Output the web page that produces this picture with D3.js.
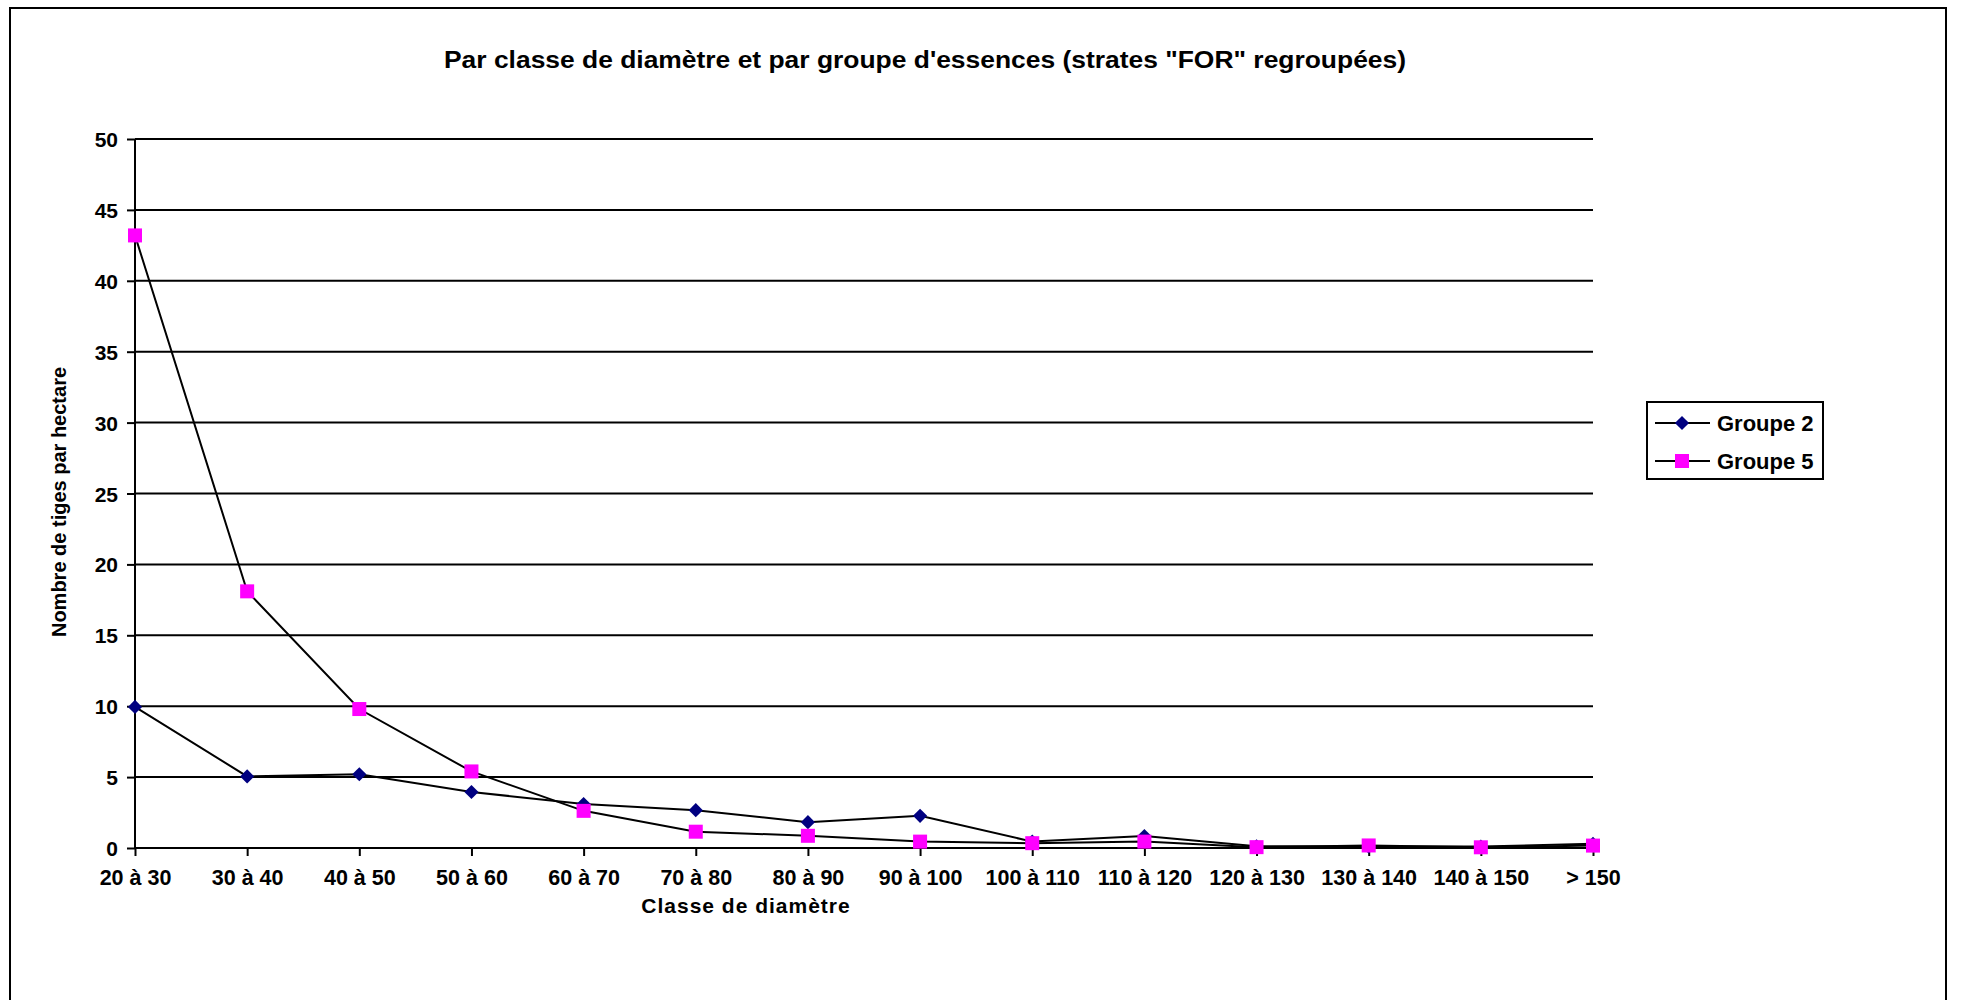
<!DOCTYPE html>
<html>
<head>
<meta charset="utf-8">
<script src="https://cdn.jsdelivr.net/npm/d3@7"></script>
<style>
  body { margin: 0; background: #fff; }
  text { font-family: Arial, "Liberation Sans", sans-serif; font-weight: bold; fill: #000; }
</style>
</head>
<body>
<svg></svg>
<script>
// dimensions
var svgWidth = 1961;
var svgHeight = 1000;

// data
var categories = ["20 à 30", "30 à 40", "40 à 50", "50 à 60", "60 à 70", "70 à 80", "80 à 90",
  "90 à 100", "100 à 110", "110 à 120", "120 à 130", "130 à 140", "140 à 150", "> 150"];
var groupe2 = [9.95, 5.05, 5.2, 3.95, 3.1, 2.67, 1.82, 2.27, 0.45, 0.85, 0.12, 0.1, 0.1, 0.3];
var groupe5 = [43.2, 18.1, 9.8, 5.4, 2.62, 1.15, 0.86, 0.45, 0.34, 0.45, 0.06, 0.18, 0.05, 0.17];
var yTicks = [0, 5, 10, 15, 20, 25, 30, 35, 40, 45, 50];
var seriesNames = ["Groupe 2", "Groupe 5"];

var svg = d3.select("svg")
  .attr("width", svgWidth)
  .attr("height", svgHeight);

// outer frame
svg.append("rect")
  .attr("x", 10).attr("y", 8)
  .attr("width", 1936).attr("height", 1100)
  .attr("fill", "none").attr("stroke", "#000").attr("stroke-width", 2);

var x = d3.scalePoint()
  .domain(categories)
  .range([135, 1593]);

var y = d3.scaleLinear()
  .domain([0, 50])
  .range([848, 139]);

// gridlines
svg.append("g")
  .selectAll("line")
  .data(yTicks.filter(d => d > 0))
  .enter()
  .append("line")
  .attr("x1", 135).attr("x2", 1593)
  .attr("y1", d => y(d)).attr("y2", d => y(d))
  .attr("stroke", "#000").attr("stroke-width", 2);

// axes
var leftAxis = d3.axisLeft(y).tickValues(yTicks).tickSize(8).tickPadding(9);
var bottomAxis = d3.axisBottom(x).tickSize(8).tickPadding(14);

var gy = svg.append("g")
  .attr("transform", "translate(135,0)")
  .call(leftAxis);
gy.select(".domain").attr("stroke-width", 2).attr("d", "M0," + y(0) + "V" + y(50));
gy.selectAll(".tick line").attr("stroke-width", 2);
gy.selectAll("text").style("font-size", "21px").attr("dy", "0.36em");

var gx = svg.append("g")
  .attr("transform", "translate(0,848)")
  .call(bottomAxis);
gx.select(".domain").attr("stroke-width", 2).attr("d", "M135,0H1593");
gx.selectAll(".tick line").attr("stroke-width", 2);
gx.selectAll("text").style("font-size", "21.5px");

// lines
var line = d3.line()
  .x((d, i) => x(categories[i]))
  .y(d => y(d));

svg.append("path")
  .attr("d", line(groupe2))
  .attr("fill", "none").attr("stroke", "#000").attr("stroke-width", 2);

svg.append("path")
  .attr("d", line(groupe5))
  .attr("fill", "none").attr("stroke", "#000").attr("stroke-width", 2);

// markers
var diamond = d3.symbol().type(d3.symbolSquare).size(100);

svg.append("g")
  .selectAll("path")
  .data(groupe2)
  .enter()
  .append("path")
  .attr("d", diamond)
  .attr("transform", (d, i) => "translate(" + x(categories[i]) + "," + y(d) + ") rotate(45)")
  .attr("fill", "#000080");

svg.append("g")
  .selectAll("rect")
  .data(groupe5)
  .enter()
  .append("rect")
  .attr("x", (d, i) => x(categories[i]) - 7)
  .attr("y", d => y(d) - 7)
  .attr("width", 14).attr("height", 14)
  .attr("fill", "#ff00ff");

// title
svg.append("text")
  .attr("x", 925).attr("y", 68)
  .attr("text-anchor", "middle")
  .attr("textLength", 962)
  .attr("lengthAdjust", "spacingAndGlyphs")
  .style("font-size", "23px")
  .text("Par classe de diamètre et par groupe d'essences (strates \"FOR\" regroupées)");

// axis titles
svg.append("text")
  .attr("x", 746).attr("y", 913)
  .attr("text-anchor", "middle")
  .style("font-size", "21px")
  .style("letter-spacing", "1px")
  .text("Classe de diamètre");

svg.append("text")
  .attr("transform", "translate(66,502) rotate(-90)")
  .attr("text-anchor", "middle")
  .style("font-size", "20px")
  .text("Nombre de tiges par hectare");

// legend
var legend = svg.append("g");
legend.append("rect")
  .attr("x", 1647).attr("y", 402)
  .attr("width", 176).attr("height", 77)
  .attr("fill", "#fff").attr("stroke", "#000").attr("stroke-width", 2);

var legY = [423, 461];
seriesNames.forEach(function(name, i) {
  legend.append("line")
    .attr("x1", 1655).attr("x2", 1710)
    .attr("y1", legY[i]).attr("y2", legY[i])
    .attr("stroke", "#000").attr("stroke-width", 2);
  if (i === 0) {
    legend.append("path")
      .attr("d", diamond)
      .attr("transform", "translate(1682," + legY[i] + ") rotate(45)")
      .attr("fill", "#000080");
  } else {
    legend.append("rect")
      .attr("x", 1675).attr("y", legY[i] - 7)
      .attr("width", 14).attr("height", 14)
      .attr("fill", "#ff00ff");
  }
  legend.append("text")
    .attr("x", 1717).attr("y", legY[i])
    .attr("dy", "0.36em")
    .style("font-size", "22px")
    .text(name);
});
</script>
</body>
</html>
